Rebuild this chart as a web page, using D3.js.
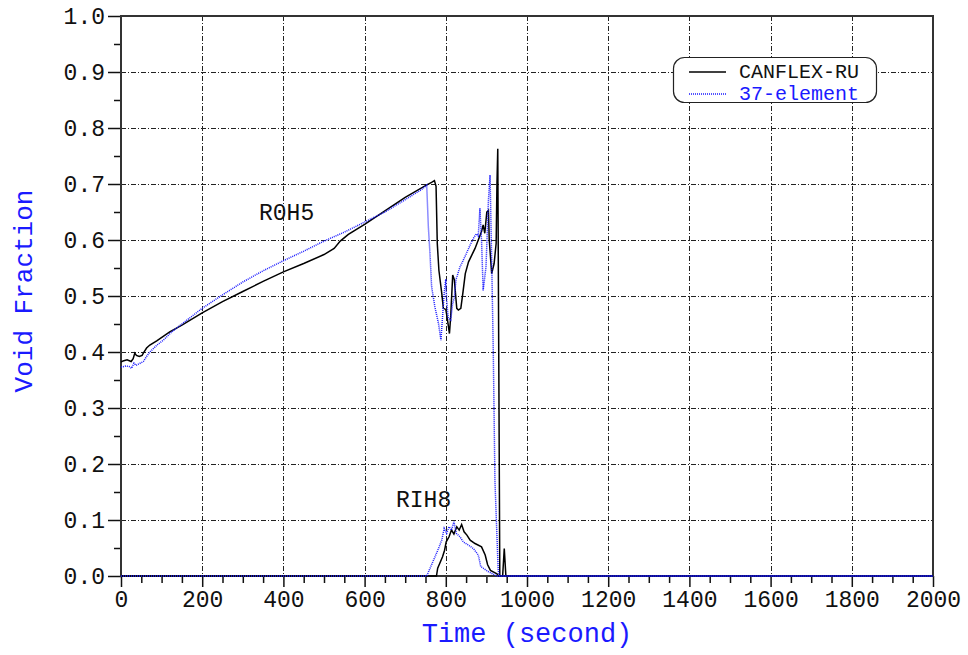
<!DOCTYPE html>
<html><head><meta charset="utf-8">
<script src="https://cdn.jsdelivr.net/npm/d3@7"></script>
<style>body{margin:0;background:#fff}svg{display:block}</style>
</head><body>
<svg id="c" width="968" height="655"></svg>
<script>
// ---- data ----
const xTicks = [0,200,400,600,800,1000,1200,1400,1600,1800,2000];
const yTicks = [0,0.1,0.2,0.3,0.4,0.5,0.6,0.7,0.8,0.9,1.0];
const seriesNames = ["CANFLEX-RU","37-element"];
const regionLabels = ["R0H5","RIH8"];

const roh5CanflexT = [0,5,15,25,30,34,38,45,52,55,63,71,88,120,150,200,250,300,350,400,450,500,525,540,560,600,650,700,750,765,772,776,779,783,790,794,800,803,809,812,817,821,827,831,837,842,848,856,864,872,880,888,892,896,901,905,907,913,919,924,926,928,933,940,944,948,2000];
const roh5CanflexV = [0.382,0.384,0.386,0.383,0.388,0.398,0.394,0.392,0.394,0.398,0.407,0.4125,0.42,0.436,0.448,0.47,0.49,0.508,0.526,0.543,0.558,0.574,0.585,0.598,0.61,0.628,0.652,0.676,0.697,0.703,0.706,0.696,0.594,0.546,0.505,0.478,0.476,0.463,0.433,0.463,0.5375,0.529,0.478,0.475,0.478,0.505,0.54,0.561,0.573,0.585,0.6,0.615,0.627,0.612,0.65,0.653,0.6,0.54,0.558,0.594,0.70,0.763,0.0,0.0,0.049,0,0];

const roh5ElemT = [0,12,20,26,32,37,42,50,55,63,71,88,104,125,150,200,250,300,350,400,450,500,550,600,650,700,740,753,757,761,765,773,782,788,792,796,800,802,806,812,817,821,825,835,847,860,868,875,880,884,888,892,899,905,909,913,917,921,929,932,2000];
const roh5ElemV = [0.373,0.375,0.374,0.371,0.38,0.376,0.378,0.381,0.383,0.392,0.40,0.412,0.421,0.436,0.45,0.478,0.502,0.525,0.545,0.563,0.58,0.598,0.614,0.632,0.65,0.672,0.69,0.698,0.624,0.576,0.517,0.481,0.451,0.421,0.463,0.505,0.53,0.493,0.46,0.457,0.487,0.497,0.529,0.552,0.57,0.591,0.603,0.611,0.607,0.6565,0.60,0.51,0.552,0.671,0.716,0.564,0.398,0.171,0.01,0,0];

const rih8CanflexT = [0,777,780,792,797,801,808,814,820,827,833,839,845,852,860,872,888,897,903,910,918,926,930,2000];
const rih8CanflexV = [0,0,0.014,0.0345,0.046,0.061,0.07,0.082,0.075,0.088,0.082,0.092,0.079,0.073,0.064,0.058,0.052,0.0375,0.02,0.01,0.007,0.004,0,0];

const rih8ElemT = [0,753,770,782,790,796,802,808,814,820,826,835,843,856,868,880,886,892,904,915,925,2000];
const rih8ElemV = [0,0,0.0286,0.049,0.064,0.085,0.076,0.088,0.082,0.097,0.076,0.07,0.061,0.055,0.049,0.0375,0.017,0.014,0.008,0.004,0,0];

// ---- drawing ----
const svg = d3.select("#c");
const L = 121, R = 933, T = 16, B = 576;
const x = d3.scaleLinear().domain([0,2000]).range([L,R]);
const y = d3.scaleLinear().domain([0,1]).range([B,T]);
const FONT = "'Liberation Mono', 'DejaVu Sans Mono', monospace";
const BLUE = "#1a1aff";

svg.append("rect").attr("width",968).attr("height",655).attr("fill","#fff");

// grid
const grid = svg.append("g").attr("stroke","#222").attr("stroke-width",1).attr("stroke-dasharray","5,2,1,2");
grid.selectAll("line.gx").data(xTicks.filter(d=>d>0&&d<2000)).join("line")
  .attr("x1",d=>Math.round(x(d))+0.5).attr("x2",d=>Math.round(x(d))+0.5).attr("y1",T).attr("y2",B);
grid.selectAll("line.gy").data(yTicks.filter(d=>d>0&&d<1)).join("line")
  .attr("y1",d=>Math.round(y(d))+0.5).attr("y2",d=>Math.round(y(d))+0.5).attr("x1",L).attr("x2",R);

// axes
const xAxis = d3.axisBottom(x).tickValues(xTicks).tickSize(11).tickFormat(d3.format("d"));
const xMinor = d3.axisBottom(x).tickValues(d3.range(50,2000,50).filter(d=>d%200!==0)).tickSize(7).tickFormat("");
const yAxis = d3.axisLeft(y).tickValues(yTicks).tickSize(13).tickFormat(d3.format(".1f"));
const yMinor = d3.axisLeft(y).tickValues(d3.range(0.05,1,0.1)).tickSize(7).tickFormat("");

function styleAxis(g){
  g.select(".domain").remove();
  g.selectAll(".tick line").attr("stroke","#111").attr("stroke-width",1.5);
  g.selectAll("text").attr("font-family",FONT).attr("font-size",23).attr("fill","#111");
}
svg.append("g").attr("transform",`translate(0,${B})`).call(xAxis).call(styleAxis)
  .selectAll("text").attr("dy","0.95em").attr("y",9);
svg.append("g").attr("transform",`translate(0,${B})`).call(xMinor).call(styleAxis);
svg.append("g").attr("transform",`translate(${L},0)`).call(yAxis).call(styleAxis)
  .selectAll("text").attr("x",-16);
svg.append("g").attr("transform",`translate(${L},0)`).call(yMinor).call(styleAxis);

// frame
svg.append("rect").attr("x",L).attr("y",T).attr("width",R-L).attr("height",B-T)
  .attr("fill","none").attr("stroke","#333").attr("stroke-width",2);

// lines
const line = d3.line().x(d=>x(d[0])).y(d=>y(d[1]));
const zip = (t,v)=>t.map((d,i)=>[d,v[i]]);
const plot = svg.append("g").attr("fill","none");
[[rih8CanflexT,rih8CanflexV],[roh5CanflexT,roh5CanflexV]].forEach(s=>{
  plot.append("path").attr("d",line(zip(s[0],s[1]))).attr("stroke","#000").attr("stroke-width",1.5);
});
[[rih8ElemT,rih8ElemV],[roh5ElemT,roh5ElemV]].forEach(s=>{
  plot.append("path").attr("d",line(zip(s[0],s[1]))).attr("stroke",BLUE).attr("stroke-width",1.5).attr("stroke-dasharray","1,1");
});

// region labels
svg.append("text").attr("x",259).attr("y",220).text(regionLabels[0])
  .attr("font-family",FONT).attr("font-size",23).attr("fill","#111");
svg.append("text").attr("x",396).attr("y",507).text(regionLabels[1])
  .attr("font-family",FONT).attr("font-size",23).attr("fill","#111");

// axis titles
svg.append("text").attr("x",527).attr("y",642).attr("text-anchor","middle").text("Time (second)")
  .attr("font-family",FONT).attr("font-size",27).attr("fill",BLUE);
svg.append("text").attr("transform","translate(32,291) rotate(-90)").attr("text-anchor","middle").text("Void Fraction")
  .attr("font-family",FONT).attr("font-size",26).attr("fill",BLUE);

// legend
const lg = svg.append("g");
lg.append("rect").attr("x",673.5).attr("y",57.5).attr("width",203).attr("height",45).attr("rx",11)
  .attr("fill","#fff").attr("stroke","#222").attr("stroke-width",1.2);
lg.append("line").attr("x1",689).attr("x2",726).attr("y1",72).attr("y2",72).attr("stroke","#000").attr("stroke-width",1.5);
lg.append("line").attr("x1",689).attr("x2",726).attr("y1",94).attr("y2",94).attr("stroke",BLUE).attr("stroke-width",1.5).attr("stroke-dasharray","1,1");
lg.append("text").attr("x",739).attr("y",78).text(seriesNames[0]).attr("font-family",FONT).attr("font-size",20).attr("fill","#111");
lg.append("text").attr("x",739).attr("y",100).text(seriesNames[1]).attr("font-family",FONT).attr("font-size",20).attr("fill",BLUE);
</script>
</body></html>
